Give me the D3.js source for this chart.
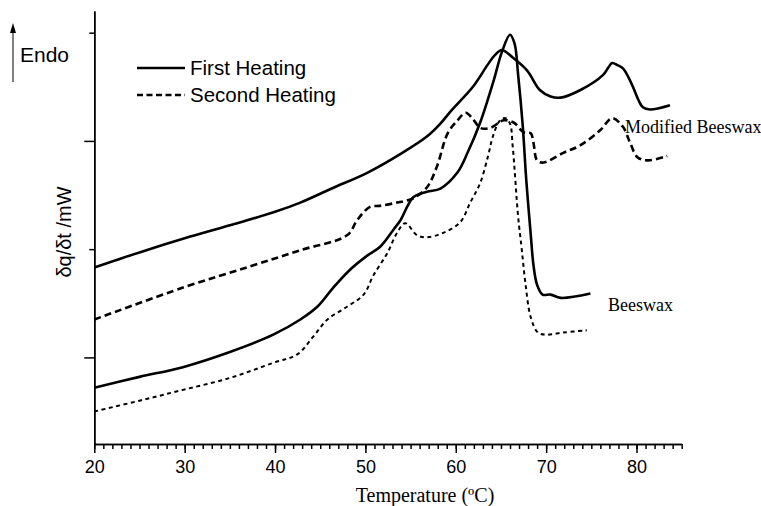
<!DOCTYPE html>
<html><head><meta charset="utf-8">
<script src="https://cdn.jsdelivr.net/npm/d3@7"></script>
<style>body{margin:0;background:#fff}svg{display:block}</style>
</head><body>
<svg id="c" width="761" height="506"></svg>
<script>
// Temperature (°C), heat flow (arbitrary units, y tick positions at 1..4)
const modFirst = [[20,1.83],[25,1.97],[30,2.10],[35,2.22],[40,2.345],[42.8,2.43],[46.4,2.565],[50.2,2.705],[53.9,2.88],[56.8,3.04],[58.3,3.16],[59.5,3.28],[61.9,3.50],[63.5,3.70],[64.3,3.79],[65.1,3.84],[66.3,3.77],[67.9,3.65],[69.3,3.47],[70.5,3.41],[71.6,3.40],[73.8,3.47],[76.3,3.61],[76.9,3.68],[77.3,3.72],[77.9,3.70],[78.5,3.67],[79.1,3.59],[79.6,3.50],[80.2,3.38],[80.7,3.31],[81.5,3.29],[83.7,3.33]];
const modSecond = [[20,1.35],[30,1.65],[37.2,1.84],[42.8,1.99],[48.0,2.13],[49.1,2.27],[50.5,2.39],[51.6,2.40],[53.5,2.43],[55.3,2.47],[56.8,2.57],[57.9,2.76],[59.1,3.07],[60.2,3.19],[61.1,3.26],[62.0,3.19],[62.7,3.12],[63.8,3.12],[65.3,3.19],[66.4,3.17],[67.5,3.08],[68.3,3.07],[68.6,2.98],[69.0,2.82],[69.7,2.80],[71.9,2.89],[73.8,2.96],[76.0,3.10],[77.3,3.21],[78.5,3.13],[79.3,2.98],[80.1,2.85],[81.2,2.82],[83.4,2.86]];
const beeFirst = [[20,0.72],[25,0.82],[29.8,0.91],[35,1.05],[39.8,1.21],[42.8,1.35],[44.7,1.47],[46.4,1.64],[48.3,1.81],[50.2,1.94],[51.6,2.02],[53.1,2.18],[53.9,2.27],[55.3,2.48],[56.8,2.53],[58.3,2.56],[60.2,2.71],[61.3,2.89],[62.7,3.17],[64.2,3.56],[65.1,3.82],[66.0,3.98],[66.5,3.90],[66.9,3.61],[67.4,3.15],[67.8,2.64],[68.3,2.13],[68.6,1.85],[69.0,1.67],[69.6,1.58],[70.5,1.58],[71.6,1.55],[74.9,1.59]];
const beeSecond = [[20,0.50],[25,0.60],[29.8,0.70],[35,0.81],[39.8,0.95],[42.5,1.03],[44.2,1.19],[45.8,1.35],[48.0,1.47],[49.8,1.58],[50.9,1.76],[52.4,1.96],[53.5,2.15],[54.4,2.24],[55.7,2.13],[56.8,2.11],[58.6,2.15],[60.5,2.25],[61.6,2.43],[62.7,2.61],[63.6,2.87],[64.1,3.04],[64.9,3.19],[65.5,3.21],[66.0,3.16],[66.3,2.95],[66.9,2.30],[67.3,2.00],[67.7,1.69],[68.3,1.37],[69.1,1.23],[70.1,1.21],[71.9,1.23],[74.5,1.25]];
const xMajorTicks = [20,30,40,50,60,70,80];
const yMajorTicks = [1,3];
const yMinorTicks = [2,4];
const legendLabels = ["First Heating","Second Heating"];
const sampleLabels = ["Modified Beeswax","Beeswax"];

const svg = d3.select("#c");
const x = d3.scaleLinear().domain([20,85]).range([94.3,681.7]);
const y = d3.scaleLinear().domain([0.2,4.2]).range([444,11]);
const sans = "'Liberation Sans', Arial, sans-serif";
const serif = "'Liberation Serif', 'Times New Roman', serif";

// axes
const gx = svg.append("g").attr("transform","translate(0,444)");
gx.call(d3.axisBottom(x).tickValues(d3.range(20,86,1)).tickSize(5).tickFormat("").tickSizeOuter(0));
gx.append("g").call(d3.axisBottom(x).tickValues(xMajorTicks).tickSize(9).tickSizeOuter(0).tickFormat(d3.format("d")));
gx.selectAll("path,line").attr("stroke","#000").attr("stroke-width",1.5);
gx.selectAll("text").attr("fill","#000").attr("font-family",sans).attr("font-size",18).attr("y",29).attr("dy",0);

const gy = svg.append("g").attr("transform","translate(94.3,0)");
gy.call(d3.axisLeft(y).tickValues(yMajorTicks).tickSize(10).tickFormat("").tickSizeOuter(0));
gy.append("g").call(d3.axisLeft(y).tickValues(yMinorTicks).tickSize(5).tickFormat("").tickSizeOuter(0));
gy.selectAll("path,line").attr("stroke","#000").attr("stroke-width",1.5);

// curves
const line = d3.line().x(d=>x(d[0])).y(d=>y(d[1])).curve(d3.curveCatmullRom.alpha(0.5));
const styles = [
  {data:modFirst, w:2.6, dash:null},
  {data:modSecond, w:2.6, dash:"7,4"},
  {data:beeFirst, w:2.6, dash:null},
  {data:beeSecond, w:2.0, dash:"4,3.5"}
];
styles.forEach(s=>{
  svg.append("path").attr("d",line(s.data)).attr("fill","none").attr("stroke","#000")
    .attr("stroke-width",s.w).attr("stroke-dasharray",s.dash).attr("stroke-linejoin","round");
});

// legend
const leg = svg.append("g");
[0,1].forEach(i=>{
  const ly = 68 + i*27;
  leg.append("line").attr("x1",137).attr("x2",185).attr("y1",ly).attr("y2",ly)
    .attr("stroke","#000").attr("stroke-width",2.6).attr("stroke-dasharray",i?"6,3.5":null);
  leg.append("text").attr("x",190).attr("y",ly+7).attr("font-family",sans).attr("font-size",20.5)
    .attr("fill","#000").text(legendLabels[i]);
});

// Endo arrow
svg.append("line").attr("x1",13).attr("x2",13).attr("y1",82).attr("y2",30).attr("stroke","#000").attr("stroke-width",1);
svg.append("path").attr("d","M13,23 L10,33 L16,33 Z").attr("fill","#000");
svg.append("text").attr("x",20).attr("y",62).attr("font-family",sans).attr("font-size",21).attr("fill","#000").text("Endo");

// axis titles
svg.append("text").attr("transform","translate(71,232) rotate(-90)").attr("text-anchor","middle")
  .attr("font-family",sans).attr("font-size",20).attr("fill","#000").text("δq/δt /mW");
svg.append("text").attr("x",425).attr("y",502).attr("text-anchor","middle")
  .attr("font-family",serif).attr("font-size",20).attr("fill","#000").text("Temperature (ºC)");

// sample labels
svg.append("text").attr("x",625).attr("y",133).attr("font-family",serif).attr("font-size",18).attr("fill","#000").text(sampleLabels[0]);
svg.append("text").attr("x",608).attr("y",311).attr("font-family",serif).attr("font-size",18).attr("fill","#000").text(sampleLabels[1]);
</script>
</body></html>
